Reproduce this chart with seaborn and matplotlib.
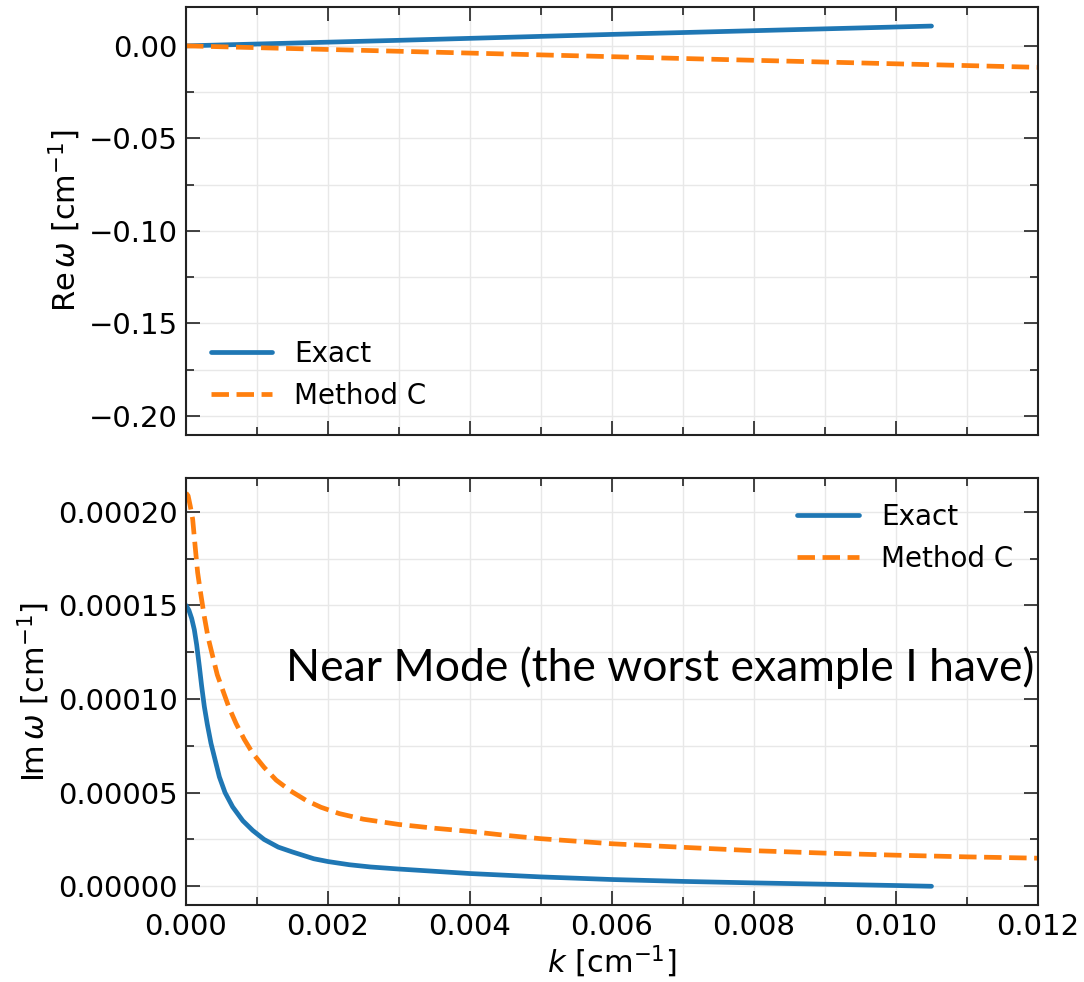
import numpy as np
import seaborn as sns
import matplotlib.pyplot as plt
from matplotlib.ticker import MultipleLocator, FormatStrFormatter

# Re(omega) curves
k_re_exact = [0.0, 0.003, 0.006, 0.0105]
re_exact = [0.0, 0.0030, 0.0062, 0.0107]
k_re_method = [0.0, 0.004, 0.008, 0.012]
re_method = [0.0, -0.0039, -0.0078, -0.0116]

# Im(omega) curves
k_im_exact = [0.0, 0.00004, 0.00008, 0.000117, 0.00015, 0.000188, 0.00022,
              0.000258, 0.0003, 0.000352, 0.0004, 0.00047, 0.00055, 0.000657,
              0.0008, 0.00094, 0.0011, 0.0013, 0.0015, 0.0018, 0.002, 0.0023,
              0.0026, 0.003, 0.0035, 0.004, 0.005, 0.006, 0.007, 0.008, 0.009,
              0.010, 0.0105]
im_exact = [1.50e-4, 1.475e-4, 1.43e-4, 1.37e-4, 1.29e-4, 1.174e-4, 1.07e-4,
            9.6e-5, 8.65e-5, 7.63e-5, 6.9e-5, 5.84e-5, 5.0e-5, 4.24e-5,
            3.5e-5, 2.98e-5, 2.5e-5, 2.09e-5, 1.83e-5, 1.47e-5, 1.32e-5, 1.15e-5,
            1.03e-5, 9.2e-6, 8.0e-6, 6.8e-6, 5.0e-6, 3.6e-6, 2.6e-6, 1.8e-6, 1.1e-6,
            4e-7, 0.0]
k_im_method = [0.0, 0.00003, 0.00006, 0.000094, 0.00013, 0.000164, 0.0002,
               0.000258, 0.00031, 0.000376, 0.00044, 0.000516, 0.0006, 0.000704,
               0.00082, 0.00094, 0.0011, 0.00127, 0.00147, 0.00169, 0.0019,
               0.00216, 0.0025, 0.003, 0.0035, 0.004, 0.0045, 0.005, 0.006,
               0.007, 0.008, 0.009, 0.010, 0.011, 0.012]
im_method = [2.10e-4, 2.085e-4, 2.03e-4, 1.96e-4, 1.81e-4, 1.675e-4, 1.58e-4,
             1.44e-4, 1.33e-4, 1.228e-4, 1.13e-4, 1.049e-4, 9.6e-5, 8.7e-5,
             7.85e-5, 7.1e-5, 6.35e-5, 5.67e-5, 5.1e-5, 4.59e-5, 4.22e-5,
             3.88e-5, 3.58e-5, 3.3e-5, 3.1e-5, 2.93e-5, 2.72e-5, 2.54e-5, 2.27e-5,
             2.08e-5, 1.9e-5, 1.77e-5, 1.66e-5, 1.57e-5, 1.5e-5]

blue = "#1f77b4"
orange = "#ff7f0e"

sns.set_theme(style="ticks")
plt.rcParams["font.family"] = ["DejaVu Sans"]
plt.rcParams["mathtext.fontset"] = "dejavusans"
plt.rcParams["font.size"] = 21
plt.rcParams["text.color"] = "black"
plt.rcParams["axes.labelcolor"] = "black"

fig = plt.figure(figsize=(10.84, 9.82), dpi=100)
W, H = 1084, 982
ax1 = fig.add_axes([186 / W, (H - 434.5) / H, 852 / W, 427.5 / H])
ax2 = fig.add_axes([186 / W, (H - 905) / H, 852 / W, 427 / H], sharex=ax1)

lw = 3.4
sns.lineplot(x=k_re_exact, y=re_exact, ax=ax1, color=blue, lw=lw, label="Exact", sort=False)
sns.lineplot(x=k_re_method, y=re_method, ax=ax1, color=orange, lw=lw, ls="--",
             label="Method C", sort=False)
sns.lineplot(x=k_im_exact, y=im_exact, ax=ax2, color=blue, lw=lw, label="Exact", sort=False)
sns.lineplot(x=k_im_method, y=im_method, ax=ax2, color=orange, lw=lw, ls="--",
             label="Method C", sort=False)

ax1.set_xlim(0, 0.012)
ax1.set_ylim(-0.21, 0.021)
ax2.set_ylim(-1.0e-5, 2.18e-4)

ax1.yaxis.set_major_locator(MultipleLocator(0.05))
ax1.yaxis.set_minor_locator(MultipleLocator(0.025))
ax2.yaxis.set_major_locator(MultipleLocator(0.00005))
ax2.yaxis.set_minor_locator(MultipleLocator(0.000025))
ax2.yaxis.set_major_formatter(FormatStrFormatter("%.5f"))
ax2.xaxis.set_major_locator(MultipleLocator(0.002))
ax2.xaxis.set_minor_locator(MultipleLocator(0.001))
ax2.xaxis.set_major_formatter(FormatStrFormatter("%.3f"))

for ax in (ax1, ax2):
    ax.grid(which="both", color="#e8e8e8", lw=1.0)
    ax.set_axisbelow(True)
    ax.tick_params(which="both", direction="in", top=True, right=True,
                   colors="#222222", labelcolor="black", width=1.2)
    ax.tick_params(which="major", length=10, labelsize=21, pad=6)
    ax.tick_params(which="minor", length=5.5)
    for s in ax.spines.values():
        s.set_linewidth(1.5)
        s.set_color("#222222")

ax1.tick_params(labelbottom=False)
ax1.set_xlabel("")
ax1.set_ylabel(r"$\mathrm{Re}\,\omega$ [cm$^{-1}$]", fontsize=22)
ax2.set_ylabel(r"$\mathrm{Im}\,\omega$ [cm$^{-1}$]", fontsize=22)
ax2.set_xlabel(r"$k$ [cm$^{-1}$]", fontsize=22, labelpad=2)

ax1.legend(loc="lower left", frameon=False, fontsize=20, handlelength=2.2)
ax2.legend(loc="upper right", frameon=False, fontsize=20, handlelength=2.2)

ax2.text(0.557, 0.555, "Near Mode (the worst example I have)", transform=ax2.transAxes,
         ha="center", va="center", fontsize=32, family=["Lato", "DejaVu Sans"],
         color="black")

fig.savefig("out.png", dpi=100)
